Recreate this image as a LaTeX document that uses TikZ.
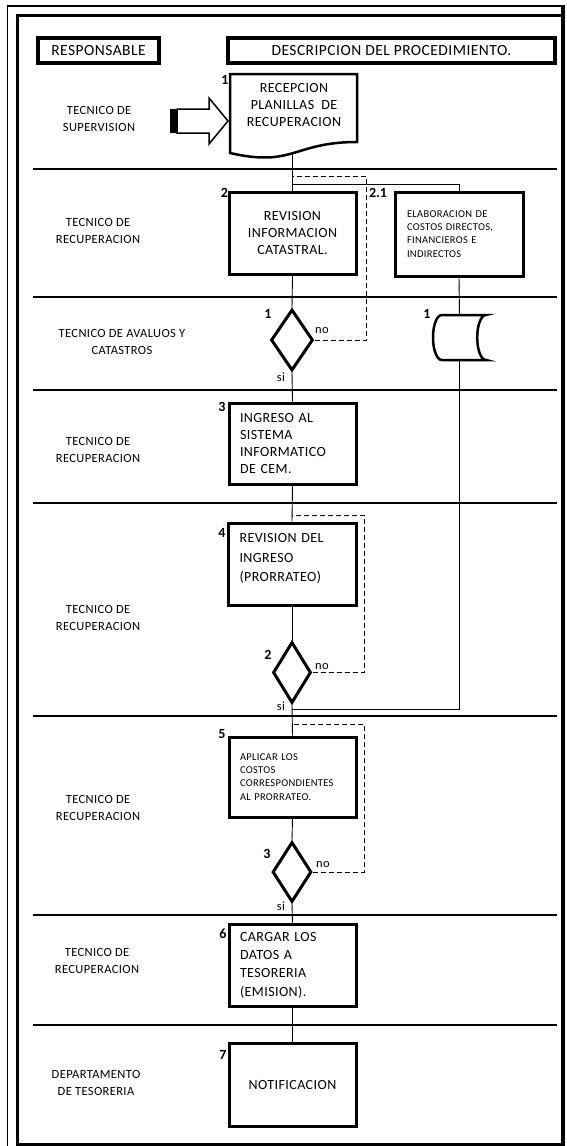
\documentclass[tikz,border=0pt]{standalone}
\usepackage{fontspec}
\setmainfont{Carlito}
\newfontfamily\spfont[LetterSpace=3]{Carlito}
\usetikzlibrary{shapes.geometric}
\begin{document}
\begin{tikzpicture}[x=1pt,y=-1pt,
  hdr/.style={draw, line width=3.5pt, rectangle, inner sep=0pt, font=\spfont\fontsize{15.5}{17}\selectfont},
  box/.style={draw, line width=3pt, rectangle, minimum width=127, minimum height=82, inner sep=0pt, fill=white},
  bigtxt/.style={font=\spfont\fontsize{14}{16.7}\selectfont},
  smalltxt/.style={font=\spfont\fontsize{10.5}{13.2}\selectfont},
  dec/.style={draw, diamond, line width=3pt, minimum width=40, minimum height=61, inner sep=0pt, fill=white},
  num/.style={font=\bfseries\fontsize{14}{15}\selectfont, inner sep=0pt},
  yn/.style={font=\spfont\fontsize{12.5}{13}\selectfont, inner sep=0pt},
  lbl/.style={font=\spfont\fontsize{12.5}{17.5}\selectfont, align=center, inner sep=0pt},
  lane/.style={line width=1.7pt},
  conn/.style={line width=0.9pt},
  loopback/.style={line width=0.9pt, dash pattern=on 5pt off 3pt}]
\useasboundingbox (0,0) rectangle (566,1146);
% page frame
\draw[line width=2pt] (7.5,5.5) -- (562,5.5);
\draw[line width=1.5pt] (7.5,5) -- (7.5,1146);
\draw[line width=3pt] (17.5,15.5) -- (561,15.5);
\draw[line width=3pt] (17.5,14) -- (17.5,1144.5);
\draw[line width=4pt] (563,4.5) -- (563,1146);
\draw[line width=3pt] (16,1144.5) -- (565,1144.5);
% headers
\node[hdr, minimum width=121, minimum height=25] (h1) at (98.5,50.5) {RESPONSABLE};
\node[hdr, minimum width=327, minimum height=25] (h2) at (391.5,50.5) {DESCRIPCION DEL PROCEDIMIENTO.};
% lane lines
\foreach \yy in {169,297,390,503,716,915,1025}
  \draw[lane] (33,\yy) -- (557,\yy);
% lane labels
\node[lbl] (r1) at (99,119) {TECNICO DE\\SUPERVISION};
\node[lbl] (r2) at (98,231) {TECNICO DE\\RECUPERACION};
\node[lbl] (r3) at (122,342) {TECNICO DE AVALUOS Y\\CATASTROS};
\node[lbl] (r4) at (98,450) {TECNICO DE\\RECUPERACION};
\node[lbl] (r5) at (98,618) {TECNICO DE\\RECUPERACION};
\node[lbl] (r6) at (98,808) {TECNICO DE\\RECUPERACION};
\node[lbl] (r7) at (97,961) {TECNICO DE\\RECUPERACION};
\node[lbl] (r8) at (96,1083) {DEPARTAMENTO\\DE TESORERIA};
% step 1 document shape
\draw[line width=2.5pt, fill=white] (230,74) -- (357,74) -- (357,142) .. controls (293.5,142) and (293.5,167.6) .. (230,153) -- cycle;
\node[bigtxt, align=center, inner sep=0pt] (d1) at (294,105) {RECEPCION\\PLANILLAS~ DE\\RECUPERACION};
\coordinate (d1b) at (292,152);
\node[num] (n1) at (225,80) {1};
% block arrow
\draw[line width=1.5pt, fill=white] (177,109) -- (209,109) -- (209,98) -- (228,121) -- (209,144) -- (209,133) -- (177,133) -- cycle;
\fill (170,109) rectangle (177,133);
% junction coordinates
\coordinate (ja) at (292,176);
\coordinate (la) at (366,176);
\coordinate (jb) at (292,184);
\coordinate (jc) at (292,515);
\coordinate (lc) at (364,515);
\coordinate (j2) at (292,709);
\coordinate (jd) at (292,724);
\coordinate (ld) at (364,724);
% connectors drawn first (boxes cover them)
\draw[conn] (d1b) -- (292,192);
\draw[conn] (jb) -| (459,192);
% step 2
\node[box, bigtxt, align=center] (s2) at (292.5,233) {REVISION\\INFORMACION\\CATASTRAL.};
\node[num] (n2) at (224.5,192.5) {2};
% step 2.1
\node[box, smalltxt, minimum width=128, minimum height=84, text width=104, align=left] (s21) at (459,234) {ELABORACION DE\\COSTOS DIRECTOS,\\FINANCIEROS E\\INDIRECTOS};
\node[num] (n21) at (378,192.5) {2.1};
% decision 1
\node[dec, minimum width=42] (dd1) at (292,340) {};
\node[num] (dn1) at (268,314) {1};
\node[yn] (no1) at (322,331) {no};
\node[yn] (si1) at (281,377) {si};
% storage
\node[minimum width=53, minimum height=45, inner sep=0pt] (c1) at (459.5,337.5) {};
\draw[conn] (s21.south) -- (c1.north);
\draw[line width=2.5pt, fill=white] (441.8,315) -- (486,315)
  .. controls (481.1,315) and (477.2,325.1) .. (477.2,337.5)
  .. controls (477.2,349.9) and (481.1,360) .. (486,360)
  -- (441.8,360)
  .. controls (436.9,360) and (433,349.9) .. (433,337.5)
  .. controls (433,325.1) and (436.9,315) .. (441.8,315) -- cycle;
\node[num] (cn1) at (427,314) {1};
\draw[conn] (c1.south) |- (j2);
% step 3
\node[box, bigtxt, minimum height=81, text width=105, align=left] (s3) at (292.5,443.5) {INGRESO AL\\SISTEMA\\INFORMATICO\\DE CEM.};
\node[num] (n3) at (222,407) {3};
% step 4
\node[box, font=\spfont\fontsize{14}{19.5}\selectfont, minimum width=128, text width=105, align=left] (s4) at (292,564) {REVISION DEL\\INGRESO\\(PRORRATEO)\\[-7pt]\mbox{}};
\node[num] (n4) at (222,533) {4};
% decision 2
\node[dec, minimum width=38] (dd2) at (292,672.5) {};
\node[num] (dn2) at (268,655) {2};
\node[yn] (no2) at (322,667) {no};
\node[yn] (si2) at (281,706) {si};
% step 5
\node[box, smalltxt, minimum height=80, text width=105, align=left] (s5) at (292.5,777) {APLICAR LOS\\COSTOS\\CORRESPONDIENTES\\AL PRORRATEO.};
\node[num] (n5) at (222,734) {5};
% decision 3
\node[dec, minimum width=39, minimum height=60] (dd3) at (292,872) {};
\node[num] (dn3) at (267,854) {3};
\node[yn] (no3) at (323,865) {no};
\node[yn] (si3) at (281,906) {si};
% step 6
\node[box, font=\spfont\fontsize{14}{18.3}\selectfont, text width=105, align=left] (s6) at (292.5,965) {CARGAR LOS\\DATOS A\\TESORERIA\\(EMISION).};
\node[num] (n6) at (223,934) {6};
% step 7
\node[box, bigtxt, minimum height=83] (s7) at (292.5,1084.5) {NOTIFICACION};
\node[num] (n7) at (223,1055) {7};
% main flow
\draw[conn] (s2.south) -- (dd1.north);
\draw[conn] (dd1.south) -- (s3.north);
\draw[conn] (s3.south) -- (s4.north);
\draw[conn] (s4.south) -- (dd2.north);
\draw[conn] (dd2.south) -- (s5.north);
\draw[conn] (s5.south) -- (dd3.north);
\draw[conn] (dd3.south) -- (s6.north);
\draw[conn] (s6.south) -- (s7.north);
% loop backs
\draw[loopback] (dd1.east) -| (la) -- (ja);
\draw[loopback] (dd2.east) -| (lc) -- (jc);
\draw[loopback] (dd3.east) -| (ld) -- (jd);
\end{tikzpicture}
\end{document}
